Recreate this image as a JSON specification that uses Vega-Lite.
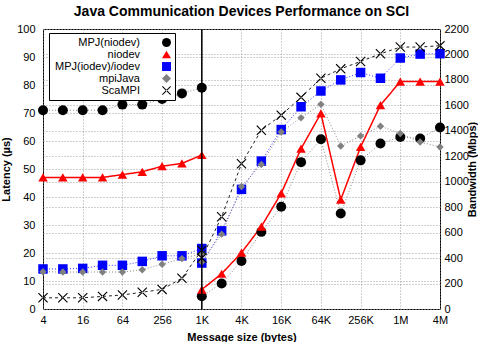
{
  "$schema": "https://vega.github.io/schema/vega-lite/v6.json",
  "width": 397,
  "height": 280,
  "padding": {"left": 0, "top": 5, "right": 0, "bottom": 0},
  "title": {"text": "Java Communication Devices Performance on SCI", "fontSize": 14, "fontWeight": "bold", "offset": 4, "anchor": "middle", "color": "black"},
  "config": {
    "font": "Liberation Sans",
    "view": {"stroke": "black", "strokeWidth": 1},
    "legend": {"rowPadding": 0},
    "axis": {"labelFontSize": 11, "titleFontSize": 11, "titleFontWeight": "bold", "labelColor": "black", "titleColor": "black", "domain": false, "ticks": false, "grid": true, "gridColor": "#888888", "gridDash": [1, 2], "gridOpacity": 1, "gridWidth": 0.8}
  },
  "datasets": {
    "lat": [
      {"size": 4, "series": "MPJ(niodev)", "latency": 71},
      {"size": 8, "series": "MPJ(niodev)", "latency": 71},
      {"size": 16, "series": "MPJ(niodev)", "latency": 71},
      {"size": 32, "series": "MPJ(niodev)", "latency": 71},
      {"size": 64, "series": "MPJ(niodev)", "latency": 73},
      {"size": 128, "series": "MPJ(niodev)", "latency": 73},
      {"size": 256, "series": "MPJ(niodev)", "latency": 75},
      {"size": 512, "series": "MPJ(niodev)", "latency": 77},
      {"size": 1024, "series": "MPJ(niodev)", "latency": 79},
      {"size": 4, "series": "niodev", "latency": 47},
      {"size": 8, "series": "niodev", "latency": 47},
      {"size": 16, "series": "niodev", "latency": 47},
      {"size": 32, "series": "niodev", "latency": 47},
      {"size": 64, "series": "niodev", "latency": 48},
      {"size": 128, "series": "niodev", "latency": 49},
      {"size": 256, "series": "niodev", "latency": 51},
      {"size": 512, "series": "niodev", "latency": 52},
      {"size": 1024, "series": "niodev", "latency": 55},
      {"size": 4, "series": "MPJ(iodev)/iodev", "latency": 14.3},
      {"size": 8, "series": "MPJ(iodev)/iodev", "latency": 14.3},
      {"size": 16, "series": "MPJ(iodev)/iodev", "latency": 14.5},
      {"size": 32, "series": "MPJ(iodev)/iodev", "latency": 15.6},
      {"size": 64, "series": "MPJ(iodev)/iodev", "latency": 15.6},
      {"size": 128, "series": "MPJ(iodev)/iodev", "latency": 17},
      {"size": 256, "series": "MPJ(iodev)/iodev", "latency": 19},
      {"size": 512, "series": "MPJ(iodev)/iodev", "latency": 19},
      {"size": 1024, "series": "MPJ(iodev)/iodev", "latency": 21.6},
      {"size": 4, "series": "mpiJava", "latency": 13.3},
      {"size": 8, "series": "mpiJava", "latency": 13.2},
      {"size": 16, "series": "mpiJava", "latency": 13.2},
      {"size": 32, "series": "mpiJava", "latency": 13.2},
      {"size": 64, "series": "mpiJava", "latency": 13.2},
      {"size": 128, "series": "mpiJava", "latency": 14},
      {"size": 256, "series": "mpiJava", "latency": 16},
      {"size": 512, "series": "mpiJava", "latency": 18},
      {"size": 1024, "series": "mpiJava", "latency": 19.8},
      {"size": 4, "series": "ScaMPI", "latency": 4},
      {"size": 8, "series": "ScaMPI", "latency": 4},
      {"size": 16, "series": "ScaMPI", "latency": 4},
      {"size": 32, "series": "ScaMPI", "latency": 4.5},
      {"size": 64, "series": "ScaMPI", "latency": 5},
      {"size": 128, "series": "ScaMPI", "latency": 6},
      {"size": 256, "series": "ScaMPI", "latency": 7},
      {"size": 512, "series": "ScaMPI", "latency": 11},
      {"size": 1024, "series": "ScaMPI", "latency": 21}
    ],
    "bw": [
      {"size": 1024, "series": "MPJ(niodev)", "mbps": 100},
      {"size": 2048, "series": "MPJ(niodev)", "mbps": 201},
      {"size": 4096, "series": "MPJ(niodev)", "mbps": 377},
      {"size": 8192, "series": "MPJ(niodev)", "mbps": 606},
      {"size": 16384, "series": "MPJ(niodev)", "mbps": 804},
      {"size": 32768, "series": "MPJ(niodev)", "mbps": 1154},
      {"size": 65536, "series": "MPJ(niodev)", "mbps": 1334},
      {"size": 131072, "series": "MPJ(niodev)", "mbps": 751},
      {"size": 262144, "series": "MPJ(niodev)", "mbps": 1168},
      {"size": 524288, "series": "MPJ(niodev)", "mbps": 1300},
      {"size": 1048576, "series": "MPJ(niodev)", "mbps": 1352},
      {"size": 2097152, "series": "MPJ(niodev)", "mbps": 1339},
      {"size": 4194304, "series": "MPJ(niodev)", "mbps": 1426},
      {"size": 1024, "series": "niodev", "mbps": 153},
      {"size": 2048, "series": "niodev", "mbps": 277},
      {"size": 4096, "series": "niodev", "mbps": 443},
      {"size": 8192, "series": "niodev", "mbps": 648},
      {"size": 16384, "series": "niodev", "mbps": 909},
      {"size": 32768, "series": "niodev", "mbps": 1260},
      {"size": 65536, "series": "niodev", "mbps": 1537},
      {"size": 131072, "series": "niodev", "mbps": 859},
      {"size": 262144, "series": "niodev", "mbps": 1273},
      {"size": 524288, "series": "niodev", "mbps": 1602},
      {"size": 1048576, "series": "niodev", "mbps": 1787},
      {"size": 2097152, "series": "niodev", "mbps": 1787},
      {"size": 4194304, "series": "niodev", "mbps": 1787},
      {"size": 1024, "series": "MPJ(iodev)/iodev", "mbps": 361},
      {"size": 2048, "series": "MPJ(iodev)/iodev", "mbps": 614},
      {"size": 4096, "series": "MPJ(iodev)/iodev", "mbps": 940},
      {"size": 8192, "series": "MPJ(iodev)/iodev", "mbps": 1162},
      {"size": 16384, "series": "MPJ(iodev)/iodev", "mbps": 1410},
      {"size": 32768, "series": "MPJ(iodev)/iodev", "mbps": 1589},
      {"size": 65536, "series": "MPJ(iodev)/iodev", "mbps": 1713},
      {"size": 131072, "series": "MPJ(iodev)/iodev", "mbps": 1800},
      {"size": 262144, "series": "MPJ(iodev)/iodev", "mbps": 1858},
      {"size": 524288, "series": "MPJ(iodev)/iodev", "mbps": 1813},
      {"size": 1048576, "series": "MPJ(iodev)/iodev", "mbps": 1972},
      {"size": 2097152, "series": "MPJ(iodev)/iodev", "mbps": 2003},
      {"size": 4194304, "series": "MPJ(iodev)/iodev", "mbps": 2006},
      {"size": 1024, "series": "mpiJava", "mbps": 369},
      {"size": 2048, "series": "mpiJava", "mbps": 588},
      {"size": 4096, "series": "mpiJava", "mbps": 963},
      {"size": 8192, "series": "mpiJava", "mbps": 1136},
      {"size": 16384, "series": "mpiJava", "mbps": 1391},
      {"size": 32768, "series": "mpiJava", "mbps": 1502},
      {"size": 65536, "series": "mpiJava", "mbps": 1608},
      {"size": 131072, "series": "mpiJava", "mbps": 1281},
      {"size": 262144, "series": "mpiJava", "mbps": 1360},
      {"size": 524288, "series": "mpiJava", "mbps": 1436},
      {"size": 1048576, "series": "mpiJava", "mbps": 1379},
      {"size": 2097152, "series": "mpiJava", "mbps": 1312},
      {"size": 4194304, "series": "mpiJava", "mbps": 1273},
      {"size": 1024, "series": "ScaMPI", "mbps": 400},
      {"size": 2048, "series": "ScaMPI", "mbps": 725},
      {"size": 4096, "series": "ScaMPI", "mbps": 1141},
      {"size": 8192, "series": "ScaMPI", "mbps": 1405},
      {"size": 16384, "series": "ScaMPI", "mbps": 1523},
      {"size": 32768, "series": "ScaMPI", "mbps": 1663},
      {"size": 65536, "series": "ScaMPI", "mbps": 1813},
      {"size": 131072, "series": "ScaMPI", "mbps": 1887},
      {"size": 262144, "series": "ScaMPI", "mbps": 1945},
      {"size": 524288, "series": "ScaMPI", "mbps": 2005},
      {"size": 1048576, "series": "ScaMPI", "mbps": 2058},
      {"size": 2097152, "series": "ScaMPI", "mbps": 2058},
      {"size": 4194304, "series": "ScaMPI", "mbps": 2069}
    ],
    "divider": [{"size": 1024}]
  },
  "encoding": {
    "x": {"field": "size", "type": "quantitative",
      "scale": {"type": "log", "base": 2, "domain": [4, 4194304], "nice": false},
      "axis": {"title": "Message size (bytes)", "values": [4, 16, 64, 256, 1024, 4096, 16384, 65536, 262144, 1048576, 4194304],
        "labelExpr": "datum.value >= 1048576 ? (datum.value / 1048576) + 'M' : (datum.value >= 1024 ? (datum.value / 1024) + 'K' : '' + datum.value)",
        "labelPadding": 5, "titlePadding": 6, "labelFlush": false, "grid": true}}
  },
  "layer": [
    {
      "data": {"name": "lat"},
      "encoding": {
        "y": {"field": "latency", "type": "quantitative", "scale": {"domain": [0, 100], "nice": false},
          "axis": {"title": "Latency (µs)", "orient": "left", "values": [0, 10, 20, 30, 40, 50, 60, 70, 80, 90, 100], "labelPadding": 8, "titlePadding": 5, "grid": true}}
      },
      "layer": [
        {
          "mark": {"type": "line"},
          "encoding": {
            "detail": {"field": "series"},
            "stroke": {"field": "series", "type": "nominal", "legend": null,
              "scale": {"domain": ["MPJ(iodev)/iodev", "MPJ(niodev)", "ScaMPI", "mpiJava", "niodev"], "range": ["#3333ff", "#8c8c8c", "#222222", "#8c8c8c", "#ff0000"]}},
            "strokeDash": {"field": "series", "type": "nominal", "legend": null,
              "scale": {"domain": ["MPJ(iodev)/iodev", "MPJ(niodev)", "ScaMPI", "mpiJava", "niodev"], "range": [[1, 2], [1, 2], [3, 3], [1, 2], [1, 0]]}},
            "strokeWidth": {"field": "series", "type": "nominal", "legend": null,
              "scale": {"type": "ordinal", "domain": ["MPJ(iodev)/iodev", "MPJ(niodev)", "ScaMPI", "mpiJava", "niodev"], "range": [1, 1, 1, 1, 1.5]}}
          }
        },
        {
          "mark": {"type": "point", "filled": true, "opacity": 1},
          "encoding": {
            "color": {"field": "series", "type": "nominal",
              "scale": {"domain": ["MPJ(niodev)", "niodev", "MPJ(iodev)/iodev", "mpiJava", "ScaMPI"], "range": ["#000000", "#ff0000", "#0000ff", "#808080", "#000000"]},
              "legend": {"title": null, "orient": "none", "legendX": 6, "legendY": 4, "fillColor": "white", "strokeColor": "black", "padding": 4,
                "labelAlign": "right", "labelOffset": -32, "symbolOffset": 108, "labelFontSize": 11, "labelColor": "black", "rowPadding": 0, "symbolSize": 80}},
            "shape": {"field": "series", "type": "nominal",
              "scale": {"domain": ["MPJ(niodev)", "niodev", "MPJ(iodev)/iodev", "mpiJava", "ScaMPI"], "range": ["circle", "triangle-up", "square", "diamond", "M-1,-0.84L-0.84,-1L1,0.84L0.84,1ZM1,-0.84L0.84,-1L-1,0.84L-0.84,1Z"]},
              "legend": {"title": null, "orient": "none", "legendX": 6, "legendY": 4, "fillColor": "white", "strokeColor": "black", "padding": 4,
                "labelAlign": "right", "labelOffset": -32, "symbolOffset": 108, "labelFontSize": 11, "labelColor": "black", "rowPadding": 0, "symbolSize": 80}},
            "size": {"field": "series", "type": "nominal", "legend": null,
              "scale": {"type": "ordinal", "domain": ["MPJ(iodev)/iodev", "MPJ(niodev)", "ScaMPI", "mpiJava", "niodev"], "range": [90, 100, 100, 55, 90]}}
          }
        }
      ]
    },
    {
      "data": {"name": "bw"},
      "encoding": {
        "y": {"field": "mbps", "type": "quantitative", "scale": {"domain": [0, 2200], "nice": false},
          "axis": {"title": "Bandwidth (Mbps)", "orient": "right", "values": [0, 200, 400, 600, 800, 1000, 1200, 1400, 1600, 1800, 2000, 2200], "format": "d", "labelPadding": 4, "titlePadding": 9, "titleAngle": 270, "grid": true}}
      },
      "layer": [
        {
          "mark": {"type": "line"},
          "encoding": {
            "detail": {"field": "series"},
            "stroke": {"field": "series", "type": "nominal", "legend": null,
              "scale": {"domain": ["MPJ(iodev)/iodev", "MPJ(niodev)", "ScaMPI", "mpiJava", "niodev"], "range": ["#3333ff", "#8c8c8c", "#222222", "#8c8c8c", "#ff0000"]}},
            "strokeDash": {"field": "series", "type": "nominal", "legend": null,
              "scale": {"domain": ["MPJ(iodev)/iodev", "MPJ(niodev)", "ScaMPI", "mpiJava", "niodev"], "range": [[1, 2], [1, 2], [3, 3], [1, 2], [1, 0]]}},
            "strokeWidth": {"field": "series", "type": "nominal", "legend": null,
              "scale": {"type": "ordinal", "domain": ["MPJ(iodev)/iodev", "MPJ(niodev)", "ScaMPI", "mpiJava", "niodev"], "range": [1, 1, 1, 1, 1.5]}}
          }
        },
        {
          "mark": {"type": "point", "filled": true, "opacity": 1},
          "encoding": {
            "color": {"field": "series", "type": "nominal",
              "scale": {"domain": ["MPJ(niodev)", "niodev", "MPJ(iodev)/iodev", "mpiJava", "ScaMPI"], "range": ["#000000", "#ff0000", "#0000ff", "#808080", "#000000"]},
              "legend": {"title": null, "orient": "none", "legendX": 6, "legendY": 4, "fillColor": "white", "strokeColor": "black", "padding": 4,
                "labelAlign": "right", "labelOffset": -32, "symbolOffset": 108, "labelFontSize": 11, "labelColor": "black", "rowPadding": 0, "symbolSize": 80}},
            "shape": {"field": "series", "type": "nominal",
              "scale": {"domain": ["MPJ(niodev)", "niodev", "MPJ(iodev)/iodev", "mpiJava", "ScaMPI"], "range": ["circle", "triangle-up", "square", "diamond", "M-1,-0.84L-0.84,-1L1,0.84L0.84,1ZM1,-0.84L0.84,-1L-1,0.84L-0.84,1Z"]},
              "legend": {"title": null, "orient": "none", "legendX": 6, "legendY": 4, "fillColor": "white", "strokeColor": "black", "padding": 4,
                "labelAlign": "right", "labelOffset": -32, "symbolOffset": 108, "labelFontSize": 11, "labelColor": "black", "rowPadding": 0, "symbolSize": 80}},
            "size": {"field": "series", "type": "nominal", "legend": null,
              "scale": {"type": "ordinal", "domain": ["MPJ(iodev)/iodev", "MPJ(niodev)", "ScaMPI", "mpiJava", "niodev"], "range": [90, 100, 100, 55, 90]}}
          }
        }
      ]
    },
    {
      "data": {"name": "divider"},
      "mark": {"type": "rule", "color": "black", "strokeWidth": 1.5},
      "encoding": {}
    }
  ],
  "resolve": {"scale": {"y": "independent"}}
}
